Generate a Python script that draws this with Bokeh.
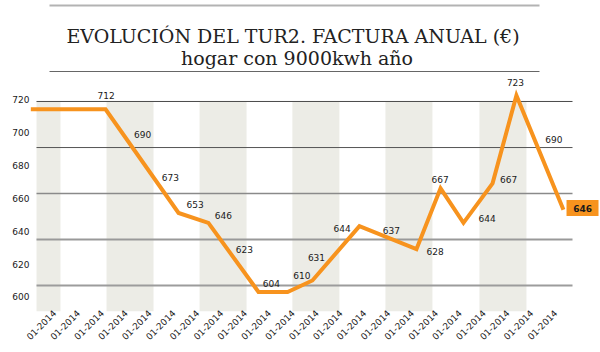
import math
from bokeh.plotting import figure
from bokeh.models import Range1d, FixedTicker
from bokeh.core.properties import value
from bokeh.embed import file_html
from bokeh.resources import INLINE

# ---------------- data ----------------
tick_labels = ["01-2014"] * 22
tick_pos = list(range(22))
y_ticks = [600, 620, 640, 660, 680, 700, 720]

# line vertices (month-slot position)
line_x = [-1.0, 2.14, 5.20, 6.45, 8.55, 9.77, 10.81, 12.78, 15.17, 16.18, 17.14, 18.36, 19.36, 21.33]
line_vals = [714, 714, 651, 645, 603, 603, 610, 643, 629, 666, 645, 669, 722.5, 653]

# printed value labels
label_text = ["712", "690", "673", "653", "646", "623", "604", "610", "631",
              "644", "637", "628", "667", "644", "667", "723", "690"]
label_x = [2.16, 3.69, 4.86, 5.89, 7.08, 7.96, 9.09, 10.37, 10.98,
           12.05, 14.12, 15.95, 16.16, 18.13, 19.03, 19.32, 20.93]
label_y = [722.2, 698.7, 672.8, 656.0, 649.3, 629.0, 608.0, 613.0, 623.8,
           641.4, 640.4, 627.8, 671.2, 647.5, 671.2, 730.2, 695.9]

last_text = ["646"]
last_x = [22.13]
last_y = [654.0]

# shaded column bands and horizontal rules
band_left = [-0.754, 2.18, 6.08, 9.97, 13.87, 17.81]
band_right = [0.251, 4.15, 8.05, 11.94, 15.84, 19.78]
grid_levels = [718.8, 690.8, 662.9, 634.9, 606.9]
grid_colors = ["#4a4a4a", "#555555", "#8a8a8a", "#999999", "#9c9c9c"]
grid_widths = [1, 1, 1.5, 2, 2]
grid_x0, grid_x1 = -0.754, 21.71

title1 = "EVOLUCIÓN DEL TUR2. FACTURA ANUAL (€)"
title2 = "hogar con 9000kwh año"

# ---------------- layout helpers ----------------
W, H = 600, 352
FRAME_L, FRAME_T, FRAME_R, FRAME_B = 30, 0, 600, 311
X0_PX, XU = 54.0, 23.86      # pixel of slot 0, px per slot
Y720_PX, YU = 99.0, 1.645    # pixel of value 720, px per unit


def px_x(px):
    return (px - X0_PX) / XU


def px_y(py):
    return 720 - (py - Y720_PX) / YU


ORANGE = "#F7931E"

p = figure(width=W, height=H, output_backend="svg", toolbar_location=None,
           x_range=Range1d(px_x(FRAME_L), px_x(FRAME_R)),
           y_range=Range1d(px_y(FRAME_B), px_y(FRAME_T)),
           min_border_left=FRAME_L, min_border_right=W - FRAME_R,
           min_border_top=FRAME_T, min_border_bottom=H - FRAME_B)
p.outline_line_color = None
p.background_fill_color = "white"
p.border_fill_color = "white"
p.xgrid.visible = False
p.ygrid.visible = False

# bands
p.quad(left=band_left, right=band_right, top=[grid_levels[0]] * len(band_left),
       bottom=[px_y(FRAME_B)] * len(band_left), fill_color="#ECECE6", line_color=None)

# horizontal rules
p.segment(x0=[grid_x0] * 5, x1=[grid_x1] * 5, y0=grid_levels, y1=grid_levels,
          line_color=grid_colors, line_width=grid_widths)

# series line
p.line(line_x, line_vals, line_color=ORANGE, line_width=4, line_join="miter")

# value labels
p.text(x=label_x, y=label_y, text=label_text, text_font=value("DejaVu Sans"),
       text_font_size="9px", text_color="#1a1a1a", text_align="center",
       text_baseline="middle")

# last value box
p.rect(x=last_x, y=last_y, width=32, height=16, width_units="screen",
       height_units="screen", fill_color=ORANGE, line_color=None)
p.text(x=last_x, y=last_y, text=last_text, text_font=value("DejaVu Sans"),
       text_font_size="9px", text_font_style="bold", text_color="#1a1a1a",
       text_align="center", text_baseline="middle")

# title and rules
p.segment(x0=[px_x(49)], x1=[px_x(539)], y0=[px_y(5)], y1=[px_y(5)],
          line_color="#b3b3b3", line_width=2)
p.segment(x0=[px_x(49)], x1=[px_x(539)], y0=[px_y(71)], y1=[px_y(71)],
          line_color="#666666", line_width=1)
p.text(x=[px_x(292.5)], y=[px_y(35)], text=[title1], text_font=value("DejaVu Serif"),
       text_font_size="19px", text_color="#222222", text_align="center",
       text_baseline="alphabetic")
p.text(x=[px_x(296.5)], y=[px_y(57)], text=[title2], text_font=value("DejaVu Serif"),
       text_font_size="19px", text_color="#222222", text_align="center",
       text_baseline="alphabetic")

# axes
p.yaxis.ticker = FixedTicker(ticks=y_ticks)
p.yaxis.axis_line_color = None
p.yaxis.major_tick_line_color = None
p.yaxis.minor_tick_line_color = None
p.yaxis.major_tick_out = 0
p.yaxis.major_tick_in = 0
p.yaxis.major_label_standoff = 1
p.yaxis.major_label_text_font = "DejaVu Sans"
p.yaxis.major_label_text_font_size = "9px"
p.yaxis.major_label_text_color = "#1a1a1a"

p.xaxis.ticker = FixedTicker(ticks=tick_pos)
p.xaxis.major_label_overrides = {t: lab for t, lab in zip(tick_pos, tick_labels)}
p.xaxis.major_label_orientation = math.pi / 4
p.xaxis.axis_line_color = None
p.xaxis.major_tick_line_color = None
p.xaxis.minor_tick_line_color = None
p.xaxis.major_tick_out = 0
p.xaxis.major_tick_in = 0
p.xaxis.major_label_standoff = 0
p.xaxis.major_label_text_font = "DejaVu Sans"
p.xaxis.major_label_text_font_size = "9px"
p.xaxis.major_label_text_color = "#1a1a1a"

open("out.html", "w").write(file_html(p, INLINE))
